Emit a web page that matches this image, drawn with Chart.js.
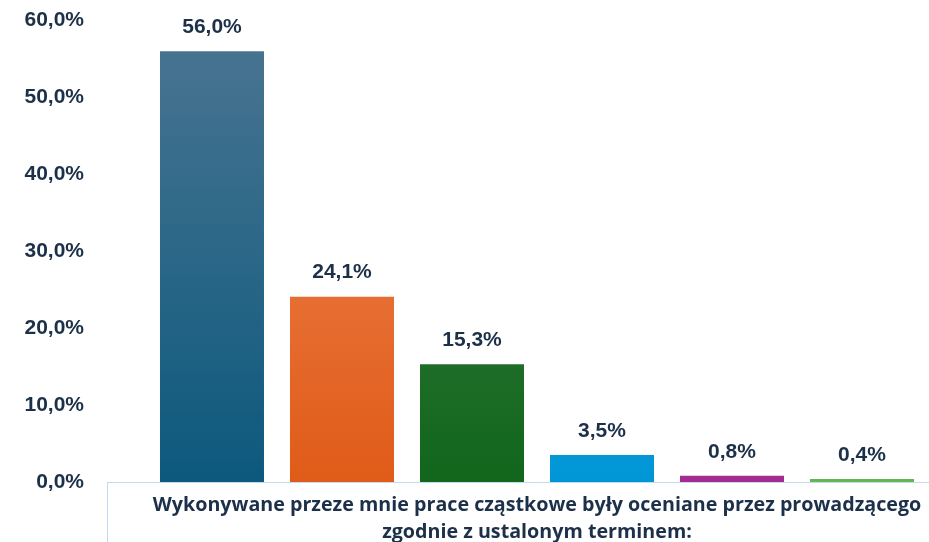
<!DOCTYPE html>
<html>
<head>
<meta charset="utf-8">
<script src="https://cdn.jsdelivr.net/npm/chart.js@4/dist/chart.umd.min.js"></script>
<style>
  html, body { margin: 0; padding: 0; background: #fff; overflow: hidden; }
  #wrap { width: 929px; height: 542px; overflow: hidden; position: relative; }
  #c { position: absolute; left: 0; top: -7px; }
</style>
</head>
<body>
<div id="wrap"><canvas id="c" width="967" height="549"></canvas></div>
<script>
const categories = [["Wykonywane przeze mnie prace cząstkowe były oceniane przez prowadzącego", "zgodnie z ustalonym terminem:"]];
const seriesNames = ["Zdecydowanie tak", "Raczej tak", "Trudno powiedzieć", "Raczej nie", "Zdecydowanie nie", "Brak odpowiedzi"];
const seriesValues = [56.0, 24.1, 15.3, 3.5, 0.8, 0.4];
const yTicks = [0, 10, 20, 30, 40, 50, 60];
const gradTop = ["#4b7592", "#f08a5a", "#42804a", "#3fabe0", "#b0409f", "#7cc46a"];
const gradBottom = ["#0c597d", "#e05b18", "#11661c", "#0096d6", "#a32c93", "#62b84f"];

const TEXT = "#1d3049";
const fmt = v => v.toFixed(1).replace(".", ",") + "%";

function makeGrad(i) {
  return function(ctx) {
    const chart = ctx.chart;
    const area = chart.chartArea;
    if (!area) return gradBottom[i];
    const el = ctx.element;
    const y0 = el && el.y !== undefined ? el.y : area.top;
    const y1 = chart.scales.y.getPixelForValue(0);
    if (!isFinite(y0) || Math.abs(y1 - y0) < 1) return gradBottom[i];
    const g = chart.ctx.createLinearGradient(0, y0, 0, y1);
    g.addColorStop(0, gradTop[i]);
    g.addColorStop(1, gradBottom[i]);
    return g;
  };
}

const valueLabels = {
  id: "valueLabels",
  afterDatasetsDraw(chart) {
    const ctx = chart.ctx;
    ctx.save();
    ctx.font = "bold 21px 'Liberation Sans', Arial, sans-serif";
    ctx.fillStyle = TEXT;
    ctx.textAlign = "center";
    ctx.textBaseline = "middle";
    chart.data.datasets.forEach((ds, i) => {
      const meta = chart.getDatasetMeta(i);
      meta.data.forEach((bar, j) => {
        ctx.fillText(fmt(ds.data[j]), bar.x, bar.y - 24);
      });
    });
    ctx.restore();
  }
};

new Chart(document.getElementById("c"), {
  type: "bar",
  data: {
    labels: categories,
    datasets: seriesNames.map((name, i) => ({
      label: name,
      data: [seriesValues[i]],
      backgroundColor: makeGrad(i),
      borderWidth: 0,
      categoryPercentage: 0.907,
      barPercentage: 0.8
    }))
  },
  options: {
    responsive: false,
    animation: false,
    layout: { padding: { top: -12, left: 0, right: 0, bottom: 0 } },
    plugins: { legend: { display: false }, tooltip: { enabled: false } },
    scales: {
      y: {
        min: 0, max: 60,
        afterBuildTicks(scale) { scale.ticks = yTicks.map(v => ({ value: v })); },
        afterFit(scale) { scale.width = 107; },
        grid: { display: false },
        border: { display: false },
        ticks: {
          padding: 15,
          color: TEXT,
          font: { family: "'Liberation Sans', Arial, sans-serif", size: 21, weight: "bold" },
          callback: v => fmt(v)
        }
      },
      x: {
        afterFit(scale) { scale.height = 60; },
        grid: { offset: true, drawOnChartArea: false, drawTicks: true, tickLength: 60, color: "#c5d9f1", lineWidth: 1 },
        border: { display: true, color: "#c5d9f1", width: 1 },
        ticks: {
          padding: -50,
          color: TEXT,
          maxRotation: 0,
          autoSkip: false,
          font: { family: "'Open Sans', sans-serif", size: 19.7, weight: "bold", lineHeight: 1.37 }
        }
      }
    }
  },
  plugins: [valueLabels]
});
</script>
</body>
</html>
